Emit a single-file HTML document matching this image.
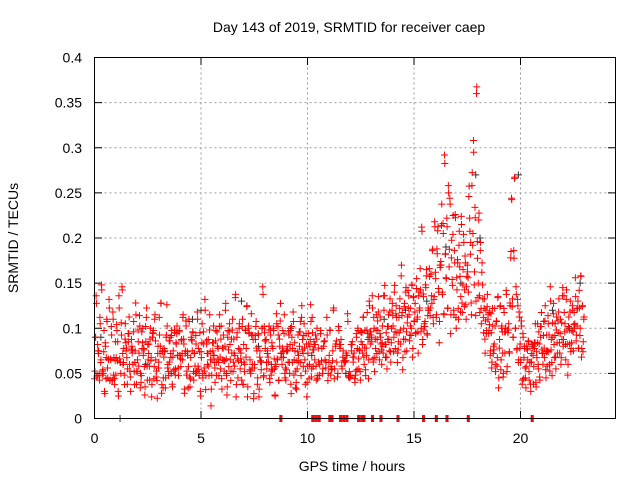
<!DOCTYPE html>
<html><head><meta charset="utf-8"><style>
body{margin:0;background:#fff}
svg text{font-family:"Liberation Sans",sans-serif;font-size:14px;fill:#000}
</style></head><body>
<svg id="chart" width="640" height="480">
<rect width="640" height="480" fill="#fff"/>
<text x="349" y="32" text-anchor="middle">Day 143 of 2019, SRMTID for receiver caep</text>
<text x="352" y="471" text-anchor="middle">GPS time / hours</text>
<text transform="translate(18,238) rotate(-90)" text-anchor="middle">SRMTID / TECUs</text>
<g id="grid"></g>
<g id="ticks"></g>
<g id="black"></g>
<g id="red"></g>
<rect x="94.5" y="57.5" width="521" height="361" fill="none" stroke="#000"/>
</svg>
<script>
const xTicks=[0,5,10,15,20];
const yTicks=[0,0.05,0.1,0.15,0.2,0.25,0.3,0.35,0.4];
const yLabels=["0","0.05","0.1","0.15","0.2","0.25","0.3","0.35","0.4"];
const binHours=[];for(let i=0;i<92;i++)binHours.push(i*0.25);
// red values per 15-minute bin (hundredths of TECU)
const redVals=[
[6,9,12,5,7,8,4],[10,7,14,6,5,9,3],[8,6,11,4,7,12,5],[7,9,5,11,6,4,8],[6,10,8,3,12,7,5],[9,15,6,7,4,10,8],[7,5,9,11,6,3,8],[8,6,10,4,7,12,5],
[6,9,7,11,5,4,8],[10,7,6,3,9,12,5],[7,8,5,10,6,4,9],[9,6,11,7,5,3,8],[6,10,8,12,4,7,5],[8,7,5,9,11,6,4],[7,9,6,10,3,8,5],[9,6,8,11,7,4,10],
[7,5,9,6,12,8,4],[8,10,6,7,5,11,3],[6,9,7,10,4,8,5],[8,6,11,7,5,9,3],[7,10,5,8,6,12,4],[9,6,8,5,11,7,3],[6,8,10,7,4,9,5],[8,7,5,11,6,10,4],
[7,9,6,8,12,5,3],[9,6,10,7,5,8,11],[6,8,7,13,4,9,5],[8,10,6,7,5,11,3],[7,6,9,8,12,4,10],[9,7,5,10,6,8,3],[6,8,11,7,5,9,4],[8,6,7,10,13,5,9],
[7,9,5,8,6,11,4],[9,6,8,7,10,5,3],[6,10,7,9,5,8,12],[8,6,9,7,11,5,4],[7,8,6,10,5,9,3],[9,7,11,6,8,5,4],[6,9,7,8,10,5,12],[8,6,10,7,5,9,4],
[7,9,6,8,11,5,10],[6,8,7,9,5,10,4],[7,6,9,8,5],[8,7,6,10,5],[7,9,6,5,8,12],[6,8,7,5,9],[7,9,5,8,6],[6,8,7,10,5,4],
[5,7,9,6,8,4],[6,9,7,10,5,8,4],[8,10,7,12,6,9,5],[7,11,9,6,13,8,10],[9,12,7,10,6,8,11],[8,10,13,7,11,9,6],[10,8,12,14,7,9,6],[9,11,8,13,7,10,12],
[11,9,14,8,12,10,7],[8,10,13,9,17,11,7],[10,12,9,14,8,11,13],[12,9,11,10,14,8,13],[10,13,9,16,11,8,14],[12,15,10,20,9,13,11],[11,14,17,9,13,12,15],[13,16,12,19,10,14,21],
[15,12,18,22,14,10,17],[17,23,14,20,12,28,19],[16,21,13,25,18,24,11],[19,15,22,12,17,23,10],[14,18,11,20,16,13,22],[12,16,20,14,18,11,15],[17,14,25,21,19,12,27],[20,30,16,23,13,36,18],
[15,22,12,19,11,17,14],[10,13,8,12,9,14,11],[9,12,7,10,6,11,8],[8,11,6,10,7,13,5],[9,12,7,10,8,5,11],[8,10,13,6,9,11,7],[12,19,24,14,9,17,27],[10,13,8,12,7,11,9],
[7,10,5,9,6,8,4],[5,8,6,9,4,7,3],[6,9,7,5,8,10,4],[7,10,6,8,5,9,11],[8,6,10,7,12,5,9],[7,11,9,6,13,8,5],[9,12,7,10,6,11,8],[10,13,8,11,6,9,14],
[8,12,10,7,14,9,6],[11,9,13,7,10,12,8],[12,10,14,9,11,13,7],[13,10,15,8,12,9,11]];
// black points (hour, value)
const blackHours=[0.3,1.2,2.4,3.6,4.6,5.0,5.6,6.2,6.9,7.7,8.3,9.2,10.2,11.8,12.9,13.6,14.6,15.6,16.5,17.2,17.9,18.1,19.3,19.9,20.6,21.5,22.3,22.8];
const blackVals=[0.09,0,0.06,0.05,0.11,0.12,0.07,0.05,0.13,0.08,0.06,0.1,0.07,0.05,0.09,0.11,0.12,0.13,0.19,0.15,0.27,0.2,0.1,0.27,0.08,0.12,0.1,0.15];
const zeroHours=[8.7,10.2,10.35,10.5,11.0,11.1,11.5,11.65,11.8,12.35,12.5,12.6,13.0,13.4,14.2,15.4,16.0,16.5,17.5,20.5];

const X=h=>94.5+h*21.3, Y=v=>418.5-v*902.5;
const NS="http://www.w3.org/2000/svg";
function el(t,a,p){const e=document.createElementNS(NS,t);for(const k in a)e.setAttribute(k,a[k]);p.appendChild(e);return e;}
const grid=document.getElementById('grid'),ticks=document.getElementById('ticks');
xTicks.forEach(t=>{const x=X(t);
 if(t>0){const g=el('line',{x1:x,x2:x,y1:57.5,y2:418.5,stroke:'#999','stroke-dasharray':'2,3'},grid);
 
 }
 el('line',{x1:x,x2:x,y1:418.5,y2:411,stroke:'#000'},ticks);el('line',{x1:x,x2:x,y1:57.5,y2:65,stroke:'#000'},ticks);
 const tx=el('text',{x:x,y:443,'text-anchor':'middle'},ticks);tx.textContent=t;
 
 });
yTicks.forEach((t,i)=>{const y=Y(t);
 if(t>0&&t<0.4){const g=el('line',{x1:94.5,x2:615.5,y1:y,y2:y,stroke:'#999','stroke-dasharray':'2,3'},grid);
 
 }
 el('line',{x1:94.5,x2:102,y1:y,y2:y,stroke:'#000'},ticks);el('line',{x1:615.5,x2:608,y1:y,y2:y,stroke:'#000'},ticks);
 const tx=el('text',{x:82,y:y+5,'text-anchor':'end'},ticks);tx.textContent=yLabels[i];
 
 });
function cross(x,y,c,g){const p=el('path',{d:`M${x-3.5},${y}h7M${x},${y-3.5}v7`,stroke:c,'stroke-width':1,fill:'none'},g);
 
 }
const bg=document.getElementById('black'),rg=document.getElementById('red');
blackHours.forEach((h,i)=>cross(X(h),Y(blackVals[i]),'#333',bg));
binHours.forEach((h,i)=>{const vs=redVals[i];vs.forEach((v,j)=>{
 const d1=(((i*5+j*3)%7)-3)*0.0025, d2=(((i*7+j*4)%9)-4)*0.004;
 cross(X(h+(j+0.5)*0.25/vs.length),Y(v/100+d1),'#f00',rg);
 cross(X(h+(j+0.15)*0.25/vs.length),Y(v/100+d2),'#f00',rg);});});
zeroHours.forEach(h=>{for(let k=0;k<4;k++)cross(X(h)+k*0.7,Y(0),'#f00',rg);});
</script>
</body></html>
